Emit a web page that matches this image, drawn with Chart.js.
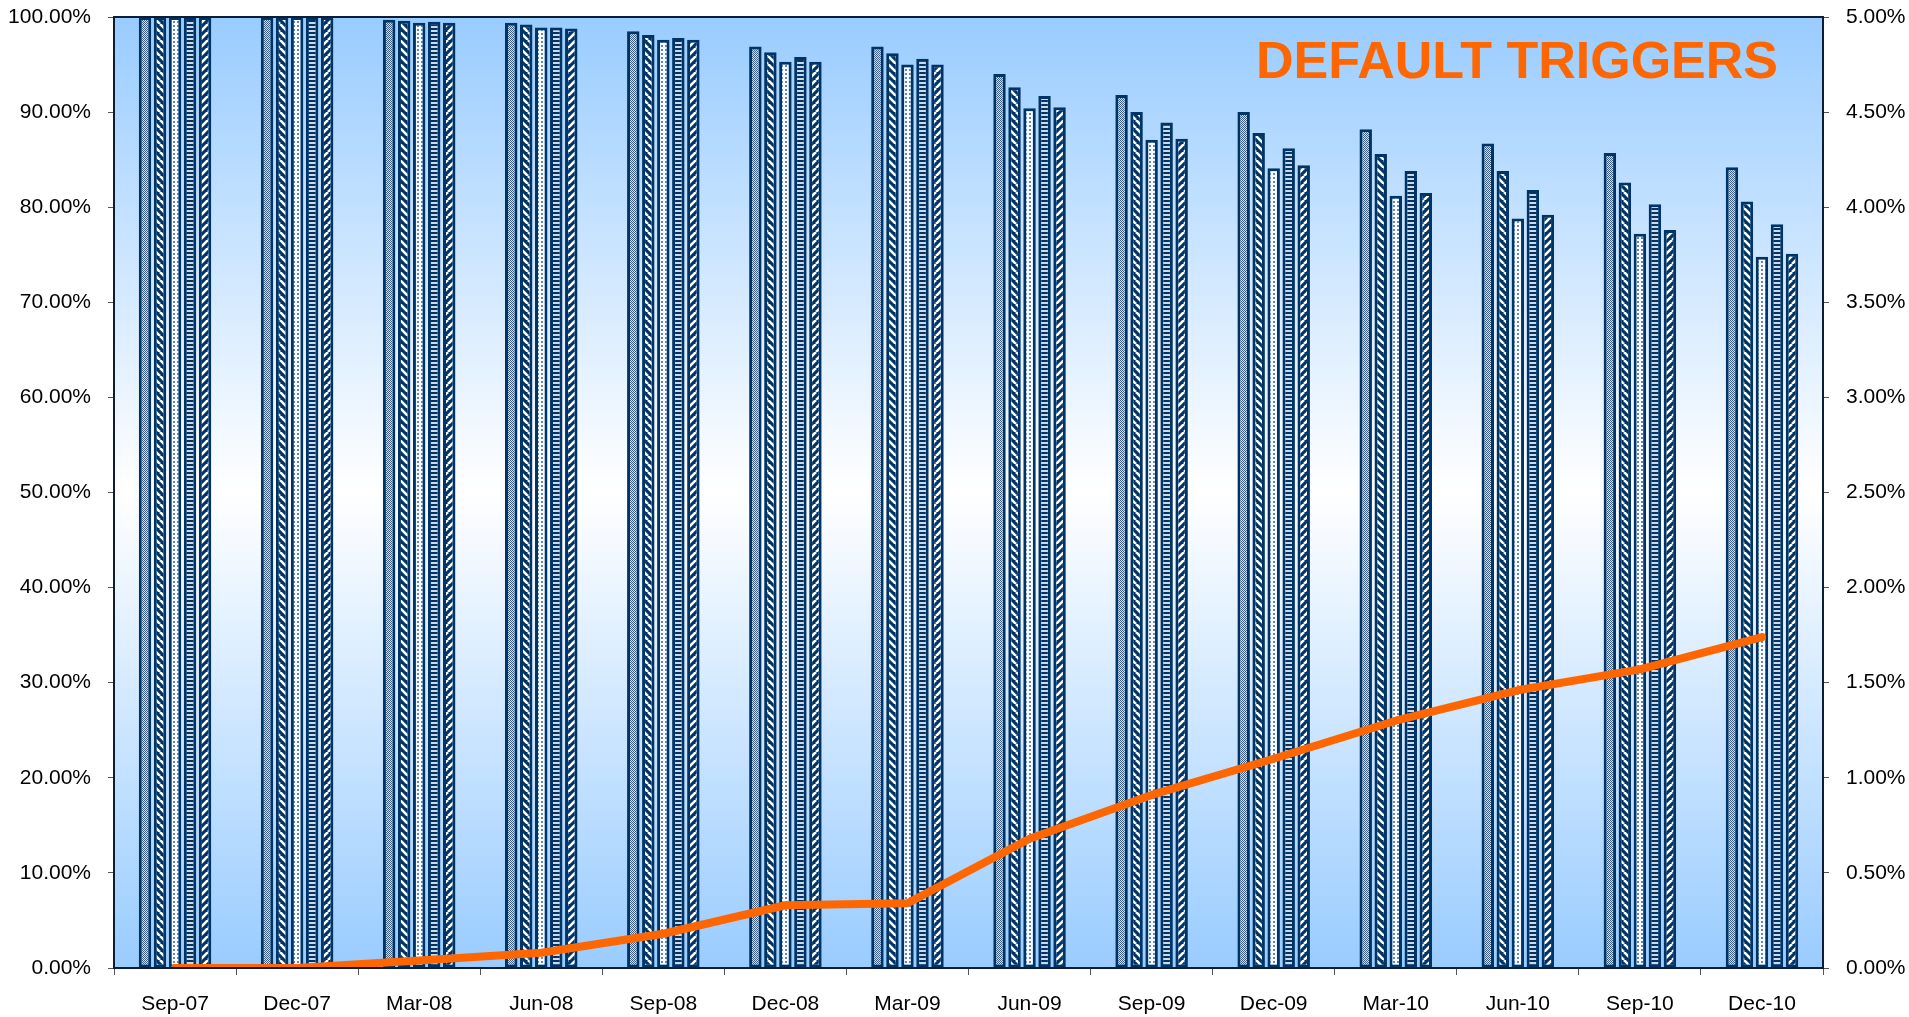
<!DOCTYPE html>
<html>
<head>
<meta charset="utf-8">
<script src="https://cdn.jsdelivr.net/npm/chart.js@4.4.0/dist/chart.umd.min.js"></script>
<style>
  html, body { margin: 0; padding: 0; background: #fff; }
  #wrap { width: 1909px; height: 1017px; }
</style>
</head>
<body>
<div id="wrap"><canvas id="myChart"></canvas></div>
<script>
const categories = ["Sep-07", "Dec-07", "Mar-08", "Jun-08", "Sep-08", "Dec-08", "Mar-09",
  "Jun-09", "Sep-09", "Dec-09", "Mar-10", "Jun-10", "Sep-10", "Dec-10"];

// bar series, % (left axis)
const series1 = [100, 100, 99.7, 99.4, 98.5, 96.9, 96.9, 94.0, 91.8, 90.0, 88.2, 86.7, 85.7, 84.2];
const series2 = [100, 100, 99.6, 99.2, 98.1, 96.3, 96.2, 92.6, 90.0, 87.8, 85.6, 83.8, 82.6, 80.6];
const series3 = [100, 100, 99.4, 98.9, 97.6, 95.3, 95.0, 90.4, 87.1, 84.1, 81.2, 78.8, 77.2, 74.8];
const series4 = [100, 100, 99.5, 98.9, 97.8, 95.8, 95.6, 91.7, 88.9, 86.2, 83.8, 81.8, 80.3, 78.2];
const series5 = [100, 100, 99.4, 98.8, 97.6, 95.3, 95.0, 90.5, 87.2, 84.4, 81.5, 79.2, 77.6, 75.1];

// default line, % (right axis)
const defaults = [0, 0, 0.04, 0.08, 0.18, 0.33, 0.34, 0.68, 0.91, 1.10, 1.30, 1.46, 1.57, 1.74];

const leftTicks = [0, 10, 20, 30, 40, 50, 60, 70, 80, 90, 100];
const rightTicks = [0, 0.5, 1, 1.5, 2, 2.5, 3, 3.5, 4, 4.5, 5];

const NAVY = "#003366";
const FONT = '"Liberation Sans", Arial, sans-serif';

function tile(w, h, draw) {
  const c = document.createElement("canvas");
  c.width = w; c.height = h;
  draw(c.getContext("2d"));
  return document.getElementById("myChart").getContext("2d").createPattern(c, "repeat");
}

// fill patterns for the five bar series
const patChecker = tile(2, 2, g => {
  g.fillStyle = "#d4dde8"; g.fillRect(0, 0, 2, 2);
  g.fillStyle = "#3f5e84"; g.fillRect(0, 0, 1, 1); g.fillRect(1, 1, 1, 1);
});
const patDown = tile(8, 8, g => {
  g.fillStyle = NAVY; g.fillRect(0, 0, 8, 8);
  g.strokeStyle = "#ffffff"; g.lineWidth = 2.6;
  for (const o of [-8, 0, 8]) { g.beginPath(); g.moveTo(o, 0); g.lineTo(o + 8, 8); g.stroke(); }
});
const patDots = tile(4, 4, g => {
  g.fillStyle = "#f7faff"; g.fillRect(0, 0, 4, 4);
  g.fillStyle = "#6a88ad"; g.fillRect(1, 1, 2, 2);
});
const patHoriz = tile(4, 4, g => {
  g.fillStyle = "#cfdae6"; g.fillRect(0, 0, 4, 4);
  g.fillStyle = NAVY; g.fillRect(0, 0, 4, 2);
});
const patUp = tile(8, 8, g => {
  g.fillStyle = NAVY; g.fillRect(0, 0, 8, 8);
  g.strokeStyle = "#ffffff"; g.lineWidth = 2.6;
  for (const o of [-8, 0, 8]) { g.beginPath(); g.moveTo(o, 8); g.lineTo(o + 8, 0); g.stroke(); }
});

const plotBackground = {
  id: "plotBackground",
  beforeDatasetsDraw(chart) {
    const { ctx, chartArea: a } = chart;
    const grad = ctx.createLinearGradient(0, a.top, 0, a.bottom);
    grad.addColorStop(0, "#99ccff");
    grad.addColorStop(0.5, "#ffffff");
    grad.addColorStop(1, "#99ccff");
    ctx.save();
    ctx.fillStyle = grad;
    ctx.fillRect(a.left, a.top, a.right - a.left, a.bottom - a.top);
    ctx.restore();
  },
  afterDraw(chart) {
    const { ctx, chartArea: a } = chart;
    ctx.save();
    ctx.strokeStyle = "#0b1e36";
    ctx.lineWidth = 2;
    ctx.strokeRect(a.left, a.top, a.right - a.left, a.bottom - a.top);
    ctx.font = "bold 52px " + FONT;
    ctx.fillStyle = "#ff6600";
    ctx.textAlign = "right";
    ctx.textBaseline = "alphabetic";
    ctx.fillText("DEFAULT TRIGGERS", a.right - 45, a.top + 61);
    ctx.restore();
  }
};

function barSet(data, pattern) {
  return {
    type: "bar",
    data: data,
    backgroundColor: pattern,
    borderColor: NAVY,
    borderWidth: 3,
    borderSkipped: false,
    yAxisID: "y",
    order: 1,
    categoryPercentage: 0.615,
    barPercentage: 0.83
  };
}

// fixed axis sizes so the plot area lands where the original has it
function fixWidth(w) {
  return s => { s.width = w; s.paddingTop = 0; s.paddingBottom = 0; };
}

new Chart(document.getElementById("myChart"), {
  data: {
    labels: categories,
    datasets: [
      {
        type: "line",
        data: defaults,
        borderColor: "#ff6600",
        borderWidth: 8,
        borderCapStyle: "round",
        borderJoinStyle: "round",
        pointRadius: 0,
        tension: 0,
        yAxisID: "y1",
        order: 0
      },
      barSet(series1, patChecker),
      barSet(series2, patDown),
      barSet(series3, patDots),
      barSet(series4, patHoriz),
      barSet(series5, patUp)
    ]
  },
  options: {
    responsive: true,
    maintainAspectRatio: false,
    animation: false,
    layout: { padding: { top: 17, left: 0, right: 0, bottom: 0 } },
    plugins: { legend: { display: false }, tooltip: { enabled: false } },
    scales: {
      x: {
        afterFit: s => { s.height = 49; s.paddingLeft = 0; s.paddingRight = 0; },
        grid: { drawOnChartArea: false, tickLength: 7, color: "#555", offset: true },
        border: { display: false },
        ticks: { color: "#000", font: { family: FONT, size: 21 }, padding: 17, maxRotation: 0 }
      },
      y: {
        position: "left",
        min: 0, max: 100,
        afterFit: fixWidth(114),
        afterBuildTicks: s => { s.ticks = leftTicks.map(v => ({ value: v })); },
        grid: { drawOnChartArea: false, tickLength: 6, color: "#555" },
        border: { display: false },
        ticks: { color: "#000", font: { family: FONT, size: 21 }, padding: 17,
          callback: v => v.toFixed(2) + "%" }
      },
      y1: {
        position: "right",
        min: 0, max: 5,
        afterFit: fixWidth(86),
        afterBuildTicks: s => { s.ticks = rightTicks.map(v => ({ value: v })); },
        grid: { drawOnChartArea: false, tickLength: 6, color: "#555" },
        border: { display: false },
        ticks: { color: "#000", font: { family: FONT, size: 21 }, padding: 17,
          callback: v => v.toFixed(2) + "%" }
      }
    }
  },
  plugins: [plotBackground]
});
</script>
</body>
</html>
